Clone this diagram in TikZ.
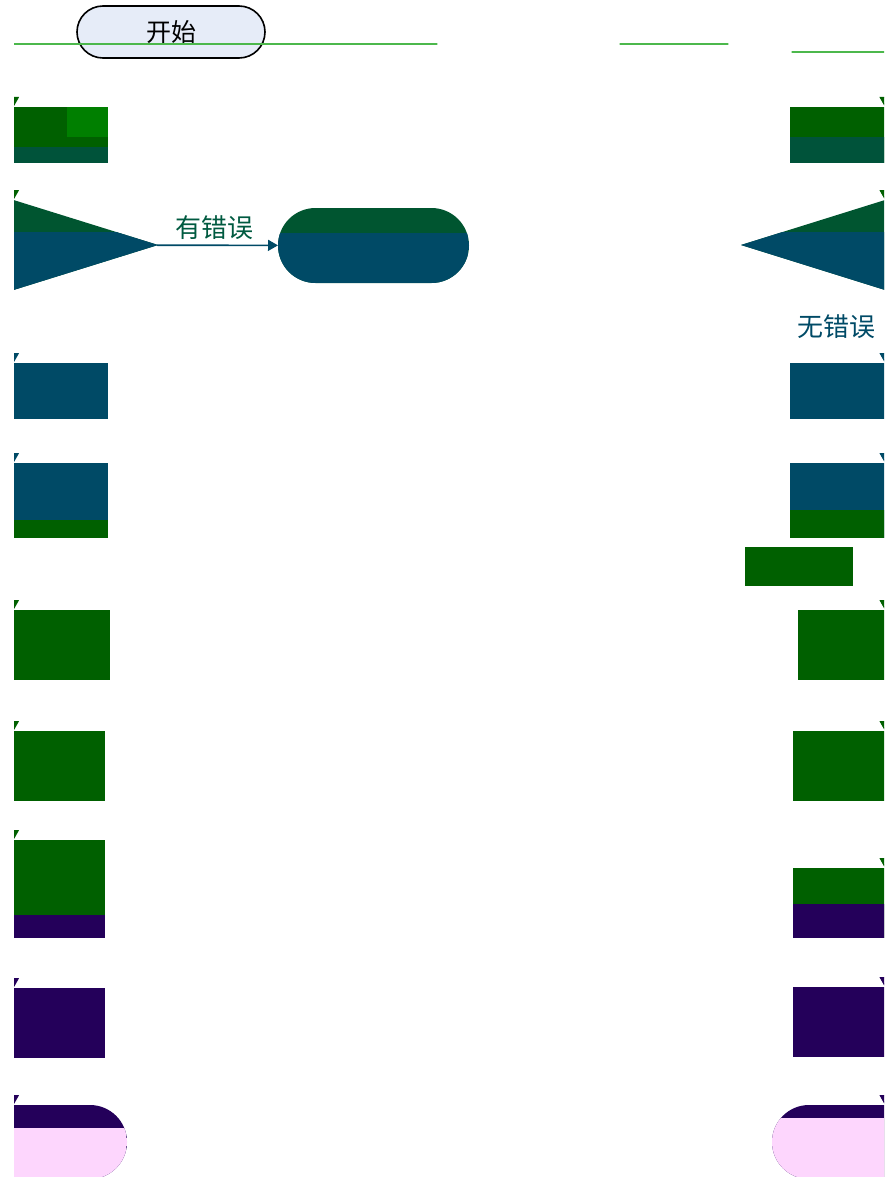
\documentclass[tikz,border=0pt]{standalone}
\usepackage{fontspec}
\newfontfamily\cjk{Noto Sans CJK SC}
\usetikzlibrary{shapes.geometric,shapes.misc,arrows.meta}
\definecolor{gmain}{HTML}{006000}
\definecolor{gdark}{HTML}{00533A}
\definecolor{gdia}{HTML}{005530}
\definecolor{teal}{HTML}{004A66}
\definecolor{purp}{HTML}{24005A}
\definecolor{pink}{HTML}{FDD6FD}
\definecolor{gpatch}{HTML}{007F00}
\definecolor{gline}{HTML}{4CB84C}
\definecolor{startfill}{HTML}{E6ECF8}
\definecolor{txtgreen}{HTML}{005A40}
\tikzset{
  blk/.style={rectangle, inner sep=0pt, outer sep=0pt, fill=#1},
  stad/.style={rounded rectangle, inner sep=0pt, outer sep=0pt, fill=#1},
  dia/.style={diamond, inner sep=0pt, outer sep=0pt, fill=#1},
  lower/.style 2 args={path picture={\fill[#1] (path picture bounding box.south west) rectangle ([yshift=#2]path picture bounding box.south east);}},
}
\begin{document}
\begin{tikzpicture}[x=0.5pt, y=-0.5pt, >={Triangle[length=5pt,width=5.5pt]}, font=\cjk\fontsize{13}{15}\selectfont, line cap=round]
            \useasboundingbox (0,0) rectangle (884,1177);
            \clip (14,0) rectangle (884,1177);
            % start
            \node[stad=startfill, draw=black, line width=0.8pt, minimum width=94pt, minimum height=26pt, font=\cjk\fontsize{12.5}{15}\selectfont] (start) at (171,32) {开始};
            \coordinate (topl) at (13.5,44);
            \coordinate (topr) at (885,52);
            \draw[gline, line width=0.6pt] (topl) -- (437,44);
            \draw[gline, line width=0.6pt] (620,44) -- (728,44);
            \draw[gline, line width=0.6pt] (792,52) -- (topr);
            % left column
            \node[blk=gmain, lower={gdark}{8pt}, minimum width=94.5pt, minimum height=28pt] (lb1) at (13.5,135) {};
            \fill[gpatch] (67,107) rectangle (108,137);
            \node[dia=gdia, lower={teal}{29pt}, minimum width=144.5pt, minimum height=45pt] (ldia) at (13.5,245) {};
            \node[stad=gdia, lower={teal}{25pt}, minimum width=95.5pt, minimum height=37.5pt] (lerr) at (373.5,245.5) {};
            \node[blk=teal, minimum width=94.5pt, minimum height=28pt] (lb2) at (13.5,391) {};
            \node[blk=teal, lower={gmain}{9pt}, minimum width=94.5pt, minimum height=37.5pt] (lb3) at (13.5,500.5) {};
            \node[blk=gmain, minimum width=96.5pt, minimum height=35pt] (lb4) at (13.5,645) {};
            \node[blk=gmain, minimum width=91.5pt, minimum height=35pt] (lb5) at (13.5,766) {};
            \node[blk=gmain, lower={purp}{11.5pt}, minimum width=91.5pt, minimum height=49pt] (lb6) at (13.5,889) {};
            \node[blk=purp, minimum width=91.5pt, minimum height=35pt] (lb7) at (13.5,1023) {};
            \node[stad=purp, lower={pink}{25.5pt}, minimum width=113.5pt, minimum height=37pt] (lend) at (13.5,1142) {};
            % right column
            \node[blk=gmain, lower={gdark}{13pt}, minimum width=95pt, minimum height=28pt] (rb1) at (885,135) {};
            \node[dia=gdia, lower={teal}{29pt}, minimum width=144pt, minimum height=45pt] (rdia) at (885,245) {};
            \node[blk=teal, minimum width=95pt, minimum height=28pt] (rb2) at (885,391) {};
            \node[blk=teal, lower={gmain}{14pt}, minimum width=95pt, minimum height=37.5pt] (rb3) at (885,500.5) {};
            \node[blk=gmain, minimum width=54pt, minimum height=19.5pt] (rx) at (799,566.5) {};
            \node[blk=gmain, minimum width=87pt, minimum height=35pt] (rb4) at (885,645) {};
            \node[blk=gmain, minimum width=92pt, minimum height=35pt] (rb5) at (885,766) {};
            \node[blk=gmain, lower={purp}{17pt}, minimum width=92pt, minimum height=35pt] (rb6) at (885,903) {};
            \node[blk=purp, minimum width=92pt, minimum height=35pt] (rb7) at (885,1022) {};
            \node[stad=purp, lower={pink}{30.5pt}, minimum width=113pt, minimum height=37pt] (rend) at (885,1142) {};
            % connectors
            \draw[->, gmain, line width=0.5pt] (topl) -- (lb1);
            \draw[->, gmain, line width=0.5pt] (topr) -- (rb1);
            \foreach \a/\b/\c in {lb1/ldia/gmain, ldia/lb2/teal, lb2/lb3/teal, lb3/lb4/gmain, lb4/lb5/gmain, lb5/lb6/gmain, lb6/lb7/purp, lb7/lend/purp, rb1/rdia/gmain, rb2/rb3/teal, rb3/rb4/gmain, rb4/rb5/gmain, rb5/rb6/gmain, rb6/rb7/purp, rb7/rend/purp}
            \draw[->, \c, line width=0.5pt] (\a) -- (\b);
            \draw[->, teal, line width=0.8pt] (ldia) -- node[above, txtgreen, pos=0.47, yshift=-1pt] {有错误} (lerr);
            \draw[->, teal, line width=0.5pt] (rdia) -- node[left, teal, xshift=-1pt] {无错误} (rb2);
    \end{tikzpicture}
\end{document}
